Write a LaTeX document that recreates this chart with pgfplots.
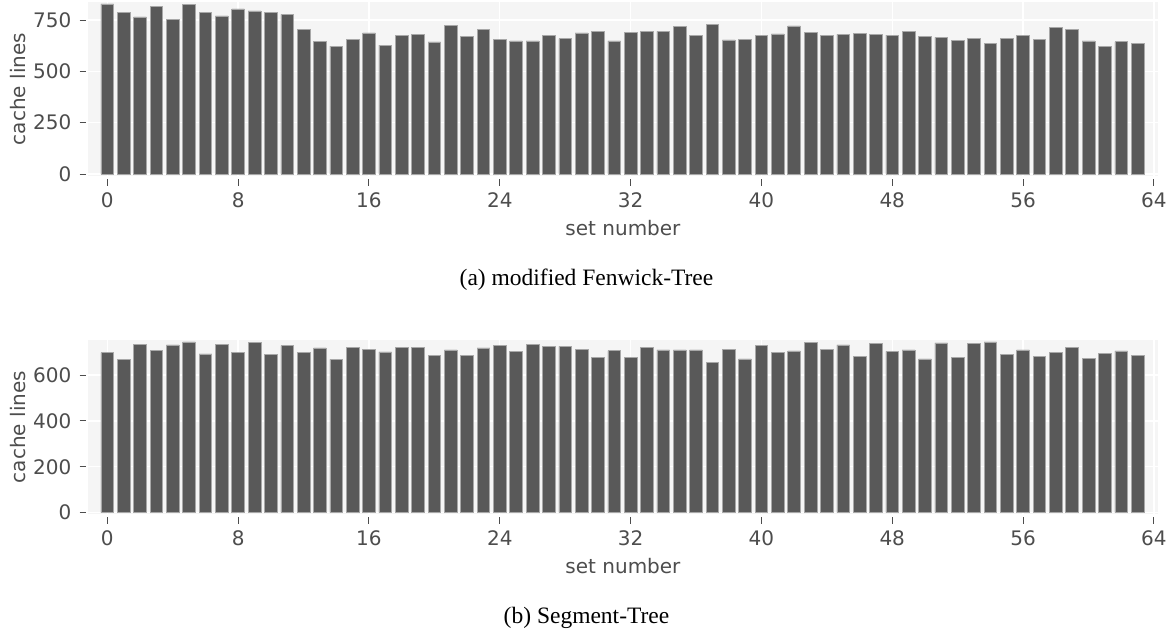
\documentclass[border=0pt]{standalone}
\usepackage{fontspec}
\setmainfont{DejaVu Sans}
\newfontfamily\capfont{Liberation Serif}
\usepackage{pgfplots}
\pgfplotsset{compat=1.18}
\definecolor{panel}{HTML}{F5F5F5}
\definecolor{barfill}{HTML}{595959}
\definecolor{baredge}{HTML}{A8A8A8}
\definecolor{txt}{HTML}{4D4D4D}
\pgfplotsset{
  mystyle/.style={
    scale only axis, width=1070pt, height=174pt,
    axis background/.style={fill=panel},
    axis line style={draw=none},
    xmin=-1.18, xmax=64.25,
    xtick={0,8,...,64},
    xtick pos=bottom, ytick pos=left,
    grid=major,
    major grid style={white, line width=1.3pt},
    tick align=outside,
    major tick length=6.5pt,
    tick style={color=txt, line width=0.9pt},
    xtick style={yshift=-3pt},
    ytick style={xshift=-2pt},
    /pgf/number format/assume math mode=true,
    ticklabel style={font=\fontsize{20}{23}\selectfont, text=txt, inner sep=0pt},
    xticklabel style={anchor=north, yshift=-10pt},
    yticklabel style={anchor=east, xshift=-10pt},
    every axis x label/.style={at={([yshift=-44pt]axis description cs:0.5,0)}, anchor=north,
      font=\fontsize{20}{23}\selectfont, text=txt, inner sep=0pt},
    every axis y label/.style={at={([xshift=-70pt]axis description cs:0,0.5)}, rotate=90, anchor=center,
      font=\fontsize{20}{23}\selectfont, text=txt, inner sep=0pt},
    xlabel={set number}, ylabel={cache lines},
    ybar, bar width=12.7pt,
  },
  mybar/.style={fill=barfill, draw=baredge, line width=0.6pt, bar shift=0pt},
}
\begin{document}
\begin{tikzpicture}
\useasboundingbox (0,0) rectangle (1173pt,-633pt);
\begin{axis}[mystyle, at={(88pt,-2pt)}, anchor=north west,
  ymin=-9.7, ymax=837.7, ytick={0,250,500,750}]
\addplot[mybar] coordinates {
(0,828) (1,786) (2,765) (3,815) (4,753) (5,826) (6,786) (7,770) (8,804) (9,794)
(10,786) (11,778) (12,706) (13,646) (14,623) (15,654) (16,687) (17,628) (18,675) (19,680)
(20,643) (21,722) (22,670) (23,705) (24,657) (25,648) (26,648) (27,675) (28,659) (29,687)
(30,696) (31,648) (32,688) (33,696) (34,695) (35,719) (36,675) (37,729) (38,653) (39,656)
(40,674) (41,682) (42,721) (43,690) (44,677) (45,680) (46,683) (47,679) (48,677) (49,693)
(50,669) (51,666) (52,651) (53,662) (54,635) (55,659) (56,674) (57,657) (58,713) (59,705)
(60,648) (61,623) (62,644) (63,635)};
\end{axis}
\begin{axis}[mystyle, at={(88pt,-340pt)}, anchor=north west,
  ymin=-5.7, ymax=752.5, ytick={0,200,400,600}]
\addplot[mybar] coordinates {
(0,697) (1,667) (2,735) (3,708) (4,731) (5,744) (6,692) (7,732) (8,699) (9,741)
(10,689) (11,728) (12,700) (13,718) (14,668) (15,722) (16,712) (17,701) (18,721) (19,719)
(20,684) (21,709) (22,686) (23,718) (24,728) (25,702) (26,732) (27,726) (28,725) (29,713)
(30,677) (31,706) (32,676) (33,719) (34,709) (35,709) (36,709) (37,654) (38,713) (39,670)
(40,728) (41,699) (42,705) (43,741) (44,713) (45,731) (46,680) (47,738) (48,703) (49,709)
(50,670) (51,740) (52,676) (53,738) (54,744) (55,689) (56,709) (57,681) (58,700) (59,720)
(60,674) (61,694) (62,705) (63,684)};
\end{axis}
\node[font=\capfont\fontsize{23.5}{27}\selectfont, anchor=base, inner sep=0pt] at (586.5pt,-285pt) {(a) modified Fenwick-Tree};
\node[font=\capfont\fontsize{23.5}{27}\selectfont, anchor=base, inner sep=0pt] at (586.5pt,-623pt) {(b) Segment-Tree};
\end{tikzpicture}
\end{document}
